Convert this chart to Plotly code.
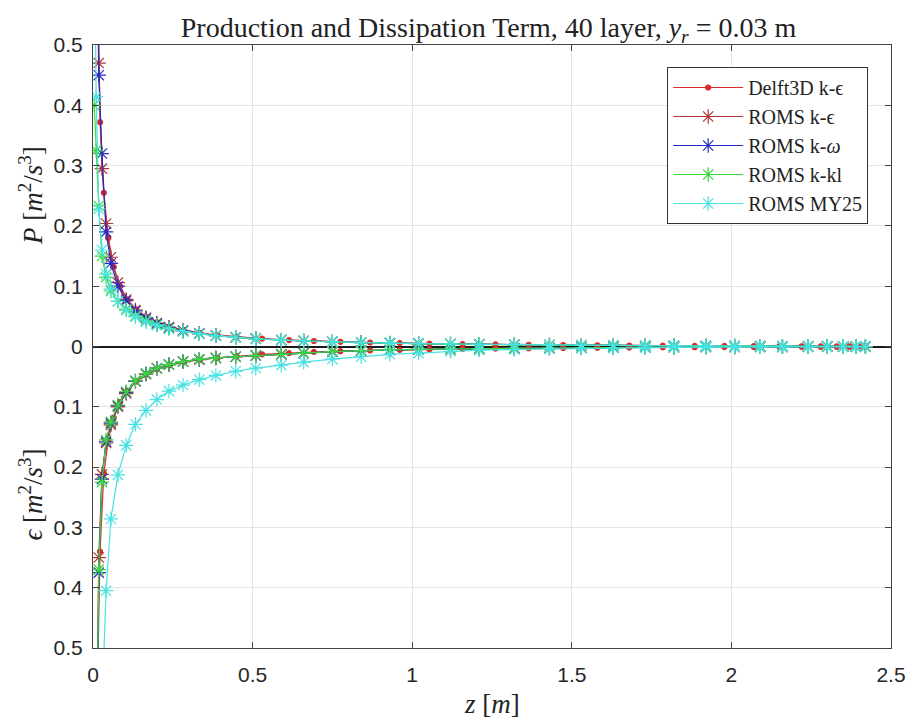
import plotly.graph_objects as go

# ---------------- data ----------------
z_delft = [0.005, 0.012, 0.022, 0.034, 0.048, 0.065, 0.085, 0.108, 0.135, 0.165,
           0.200, 0.240, 0.285, 0.335, 0.390, 0.450, 0.530, 0.614, 0.692, 0.775,
           0.868, 0.961, 1.054, 1.158, 1.261, 1.365, 1.473, 1.580, 1.680, 1.785,
           1.885, 1.978, 2.070, 2.150, 2.220, 2.280, 2.330, 2.370, 2.400, 2.420]

z_roms = [0.004, 0.010, 0.018, 0.028, 0.041, 0.056, 0.078, 0.104, 0.133, 0.166,
          0.200, 0.238, 0.282, 0.333, 0.385, 0.447, 0.510, 0.590, 0.660, 0.750,
          0.840, 0.930, 1.020, 1.120, 1.210, 1.320, 1.430, 1.530, 1.630, 1.730,
          1.820, 1.920, 2.010, 2.090, 2.160, 2.240, 2.300, 2.350, 2.390, 2.420]

P_delft = [1.75, 0.73, 0.372, 0.255, 0.180, 0.132, 0.100, 0.078, 0.0616, 0.0498,
           0.0404, 0.0331, 0.0273, 0.0227, 0.0190, 0.0160, 0.0130, 0.0107, 0.0091, 0.0078,
           0.0066, 0.0056, 0.0048, 0.0040, 0.0034, 0.0029, 0.0024, 0.0020, 0.0016, 0.0013,
           0.0011, 0.0009, 0.0007, 0.0005, 0.0004, 0.0003, 0.0002, 0.0001, 0.0001, 0.0000]
E_delft = [1.50, 0.62, 0.340, 0.210, 0.155, 0.118, 0.092, 0.073, 0.058, 0.047,
           0.038, 0.031, 0.026, 0.022, 0.019, 0.016, 0.013, 0.011, 0.0090, 0.0078,
           0.0066, 0.0056, 0.0048, 0.0040, 0.0034, 0.0029, 0.0024, 0.0020, 0.0017, 0.0014,
           0.0012, 0.0010, 0.0008, 0.0007, 0.0006, 0.0005, 0.0004, 0.0003, 0.0003, 0.0002]

P_keps = [2.10, 0.85, 0.47, 0.295, 0.204, 0.148, 0.106, 0.078, 0.0605, 0.0477,
          0.0390, 0.0322, 0.0267, 0.0220, 0.0186, 0.0155, 0.0132, 0.0109, 0.0094, 0.0079,
          0.0066, 0.0057, 0.0049, 0.0041, 0.0036, 0.0030, 0.0025, 0.0021, 0.0017, 0.0014,
          0.0012, 0.0010, 0.0008, 0.0006, 0.0005, 0.0003, 0.0002, 0.0001, 0.0001, 0.0000]
E_keps = [2.00, 0.75, 0.350, 0.212, 0.160, 0.130, 0.100, 0.078, 0.058, 0.046,
          0.036, 0.030, 0.025, 0.022, 0.019, 0.017, 0.015, 0.013, 0.011, 0.0085,
          0.0068, 0.0057, 0.0049, 0.0041, 0.0036, 0.0030, 0.0025, 0.0021, 0.0017, 0.0014,
          0.0012, 0.0010, 0.0008, 0.0007, 0.0006, 0.0005, 0.0004, 0.0003, 0.0003, 0.0002]

P_komg = [1.90, 0.80, 0.45, 0.320, 0.190, 0.138, 0.100, 0.076, 0.059, 0.047,
          0.038, 0.031, 0.026, 0.0215, 0.018, 0.015, 0.0128, 0.0106, 0.0091, 0.0077,
          0.0065, 0.0056, 0.0048, 0.0041, 0.0035, 0.0029, 0.0024, 0.0020, 0.0017, 0.0014,
          0.0012, 0.0010, 0.0008, 0.0006, 0.0005, 0.0003, 0.0002, 0.0001, 0.0001, 0.0000]
E_komg = [2.10, 0.78, 0.375, 0.220, 0.158, 0.127, 0.098, 0.076, 0.057, 0.045,
          0.036, 0.030, 0.025, 0.021, 0.019, 0.017, 0.015, 0.013, 0.011, 0.0085,
          0.0068, 0.0057, 0.0049, 0.0041, 0.0036, 0.0030, 0.0025, 0.0021, 0.0017, 0.0014,
          0.0012, 0.0010, 0.0008, 0.0007, 0.0006, 0.0005, 0.0004, 0.0003, 0.0003, 0.0002]

P_kkl = [0.40, 0.325, 0.233, 0.150, 0.115, 0.092, 0.075, 0.062, 0.051, 0.043,
         0.036, 0.030, 0.025, 0.021, 0.018, 0.015, 0.0128, 0.0106, 0.0091, 0.0077,
         0.0065, 0.0056, 0.0048, 0.0041, 0.0035, 0.0029, 0.0024, 0.0020, 0.0017, 0.0014,
         0.0012, 0.0010, 0.0008, 0.0006, 0.0005, 0.0003, 0.0002, 0.0001, 0.0001, 0.0000]
E_kkl = [2.00, 0.76, 0.370, 0.225, 0.155, 0.125, 0.097, 0.075, 0.057, 0.045,
         0.036, 0.030, 0.025, 0.021, 0.019, 0.017, 0.015, 0.013, 0.011, 0.0085,
         0.0068, 0.0057, 0.0049, 0.0041, 0.0036, 0.0030, 0.0025, 0.0021, 0.0017, 0.0014,
         0.0012, 0.0010, 0.0008, 0.0007, 0.0006, 0.0005, 0.0004, 0.0003, 0.0003, 0.0002]

P_my25 = [0.70, 0.414, 0.228, 0.160, 0.120, 0.095, 0.075, 0.060, 0.049, 0.041,
          0.035, 0.029, 0.025, 0.021, 0.018, 0.015, 0.0128, 0.0106, 0.0091, 0.0077,
          0.0065, 0.0056, 0.0048, 0.0041, 0.0035, 0.0029, 0.0024, 0.0020, 0.0017, 0.0014,
          0.0012, 0.0010, 0.0008, 0.0006, 0.0005, 0.0003, 0.0002, 0.0001, 0.0001, 0.0000]
E_my25 = [3.50, 1.60, 0.90, 0.60, 0.405, 0.286, 0.213, 0.164, 0.129, 0.106,
          0.088, 0.074, 0.064, 0.055, 0.048, 0.041, 0.036, 0.031, 0.026, 0.021,
          0.017, 0.013, 0.011, 0.008, 0.006, 0.005, 0.004, 0.003, 0.0025, 0.002,
          0.0015, 0.0010, 0.0010, 0.0008, 0.0006, 0.0005, 0.0004, 0.0003, 0.0002, 0.0001]

series = [
    ("Delft3D k-ϵ", z_delft, P_delft, E_delft, "#dc2b2b", "circle", 5),
    ("ROMS k-ϵ", z_roms, P_keps, E_keps, "#b03838", "asterisk-open", 12),
    ("ROMS k-<i>ω</i>", z_roms, P_komg, E_komg, "#2a2ac4", "asterisk-open", 12),
    ("ROMS k-kl", z_roms, P_kkl, E_kkl, "#3ad83a", "asterisk-open", 12),
    ("ROMS MY25", z_roms, P_my25, E_my25, "#48e2e2", "asterisk-open", 12),
]

y_tick_vals = [-0.5, -0.4, -0.3, -0.2, -0.1, 0, 0.1, 0.2, 0.3, 0.4, 0.5]
y_tick_text = ["0.5", "0.4", "0.3", "0.2", "0.1", "0", "0.1", "0.2", "0.3", "0.4", "0.5"]
x_tick_vals = [0, 0.5, 1, 1.5, 2, 2.5]
x_tick_text = ["0", "0.5", "1", "1.5", "2", "2.5"]

# ---------------- figure ----------------
fig = go.Figure()
for name, z, P, E, col, sym, size in series:
    mk = dict(symbol=sym, size=size, color=col, line=dict(color=col, width=1.2))
    fig.add_trace(go.Scatter(x=z, y=P, mode="lines+markers", name=name,
                             legendgroup=name, line=dict(color=col, width=1.2),
                             marker=mk, showlegend=True))
    fig.add_trace(go.Scatter(x=z, y=[-v for v in E], mode="lines+markers", name=name,
                             legendgroup=name, line=dict(color=col, width=1.2),
                             marker=mk, showlegend=False))

serif = "Liberation Serif, DejaVu Serif, serif"
sans = "Liberation Sans, Arial, sans-serif"

# page has an 8px body margin: the figure is sized/offset to compensate
fig.update_layout(
    width=910, height=712,
    paper_bgcolor="white", plot_bgcolor="white",
    margin=dict(l=85, r=20, t=37, b=72),
    title=dict(text="Production and Dissipation Term, 40 layer, <i>y<sub>r</sub></i> = 0.03 m",
               x=0.4957, xref="paper", xanchor="center", y=0.973, yanchor="middle",
               font=dict(family=serif, size=28, color="#222")),
    xaxis=dict(range=[0, 2.5], tickvals=x_tick_vals, ticktext=x_tick_text,
               showgrid=True, gridcolor="#e3e3e3", gridwidth=1,
               showline=True, linecolor="#444", linewidth=1.2, mirror="ticks",
               ticks="inside", ticklen=6, tickcolor="#444", zeroline=False,
               ticklabelstandoff=8,
               tickfont=dict(family=sans, size=21, color="#262626")),
    yaxis=dict(range=[-0.5, 0.5], tickvals=y_tick_vals, ticktext=y_tick_text,
               showgrid=True, gridcolor="#e3e3e3", gridwidth=1,
               showline=True, linecolor="#444", linewidth=1.2, mirror="ticks",
               ticks="inside", ticklen=6, tickcolor="#444",
               zeroline=True, zerolinecolor="#1a1a1a", zerolinewidth=2,
               ticklabelstandoff=5,
               tickfont=dict(family=sans, size=21, color="#262626")),
    legend=dict(x=0.9714, y=0.9635, xanchor="right", yanchor="top",
                bgcolor="white", bordercolor="#333", borderwidth=1,
                font=dict(family=serif, size=20, color="#222"),
                tracegroupgap=0, itemwidth=70),
    showlegend=True,
)

fig.add_annotation(text="<i>P</i> [<i>m</i><sup>2</sup>/<i>s</i><sup>3</sup>]",
                   xref="paper", yref="paper", x=-0.078, y=0.751, textangle=-90,
                   showarrow=False, xanchor="center", yanchor="middle",
                   font=dict(family=serif, size=27, color="#222"))
fig.add_annotation(text="<i>ϵ</i> [<i>m</i><sup>2</sup>/<i>s</i><sup>3</sup>]",
                   xref="paper", yref="paper", x=-0.078, y=0.254, textangle=-90,
                   showarrow=False, xanchor="center", yanchor="middle",
                   font=dict(family=serif, size=27, color="#222"))
fig.add_annotation(text="<i>z</i> [<i>m</i>]",
                   xref="paper", yref="paper", x=0.5, y=-0.093,
                   showarrow=False, xanchor="center", yanchor="middle",
                   font=dict(family=serif, size=27, color="#222"))

fig.write_html("out.html")
